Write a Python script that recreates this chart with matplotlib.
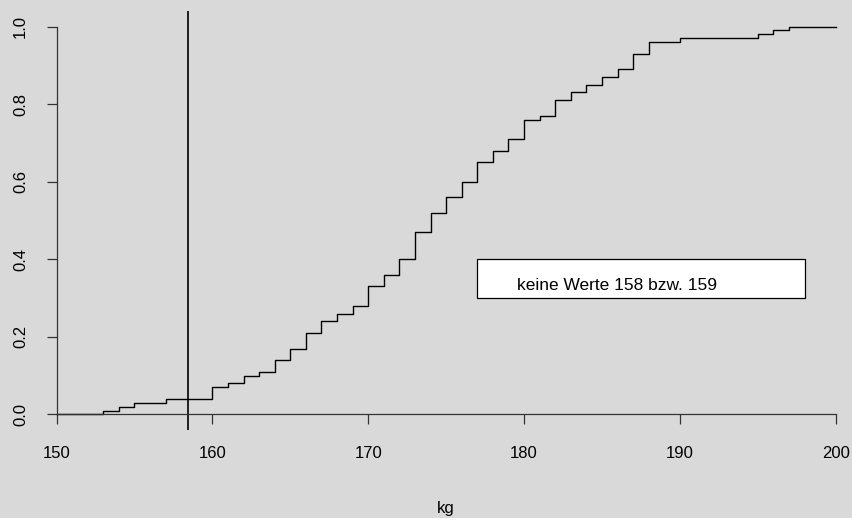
import numpy as np
import matplotlib
matplotlib.use("Agg")
import matplotlib.pyplot as plt
from matplotlib.patches import Rectangle

plt.rcParams["font.family"] = ["Liberation Sans", "DejaVu Sans"]

# ECDF jump points (kg) and cumulative proportions
jump_x = [153, 154, 155, 157, 160, 161, 162, 163, 164, 165, 166, 167, 168, 169,
          170, 171, 172, 173, 174, 175, 176, 177, 178, 179, 180, 181, 182, 183,
          184, 185, 186, 187, 188, 190, 195, 196, 197]
cum_prop = [0.01, 0.02, 0.03, 0.04, 0.07, 0.08, 0.10, 0.11, 0.14, 0.17, 0.21,
            0.24, 0.26, 0.28, 0.33, 0.36, 0.40, 0.47, 0.52, 0.56, 0.60, 0.65,
            0.68, 0.71, 0.76, 0.77, 0.81, 0.83, 0.85, 0.87, 0.89, 0.93, 0.96,
            0.97, 0.98, 0.99, 1.00]
x_min, x_max = 150, 200
cut_value = 158.45
x_ticks = [150, 160, 170, 180, 190, 200]
y_ticks = [0.0, 0.2, 0.4, 0.6, 0.8, 1.0]
note = "keine Werte 158 bzw. 159"

bg = "#d9d9d9"
W, H = 852, 518
fig = plt.figure(figsize=(W / 100, H / 100), dpi=100, facecolor=bg)
ax = fig.add_axes([56.5 / W, (H - 430) / H, 779.2 / W, 419 / H])
ax.set_facecolor("none")

# step function
xs = np.r_[x_min, jump_x, x_max]
ys = np.r_[0, cum_prop, cum_prop[-1]]
ax.step(xs, ys, where="post", color="black", lw=1.0, clip_on=False)

# vertical cut line
ax.axvline(cut_value, color="black", lw=1.2)

ax.set_xlim(x_min, x_max)
ax.set_ylim(-0.04, 1.04)

# R-style axes
for s in ["top", "right"]:
    ax.spines[s].set_visible(False)
ax.spines["bottom"].set_position(("data", 0))
ax.spines["bottom"].set_bounds(x_min, x_max)
ax.spines["left"].set_bounds(0, 1)
for s in ["bottom", "left"]:
    ax.spines[s].set_linewidth(0.9)
    ax.spines[s].set_color("#333333")

ax.set_xticks(x_ticks)
ax.set_xticklabels([str(t) for t in x_ticks])
ax.set_yticks(y_ticks)
ax.set_yticklabels([f"{t:.1f}" for t in y_ticks], rotation=90, va="center")
ax.tick_params(axis="both", direction="out", length=7.5, width=0.9,
               color="#333333", labelsize=12)
ax.tick_params(axis="x", pad=15)
ax.tick_params(axis="y", pad=13)

# note box
ax.add_patch(Rectangle((177, 0.30), 21, 0.10, facecolor="white",
                       edgecolor="black", lw=0.9, zorder=3))
ax.text(179.57, 0.321, note, fontsize=12.5, ha="left", va="baseline", zorder=4)

fig.text(446 / W, 1 - 513 / H, "kg", fontsize=12, ha="center", va="baseline")

fig.savefig("out.png", dpi=100, facecolor=bg)
